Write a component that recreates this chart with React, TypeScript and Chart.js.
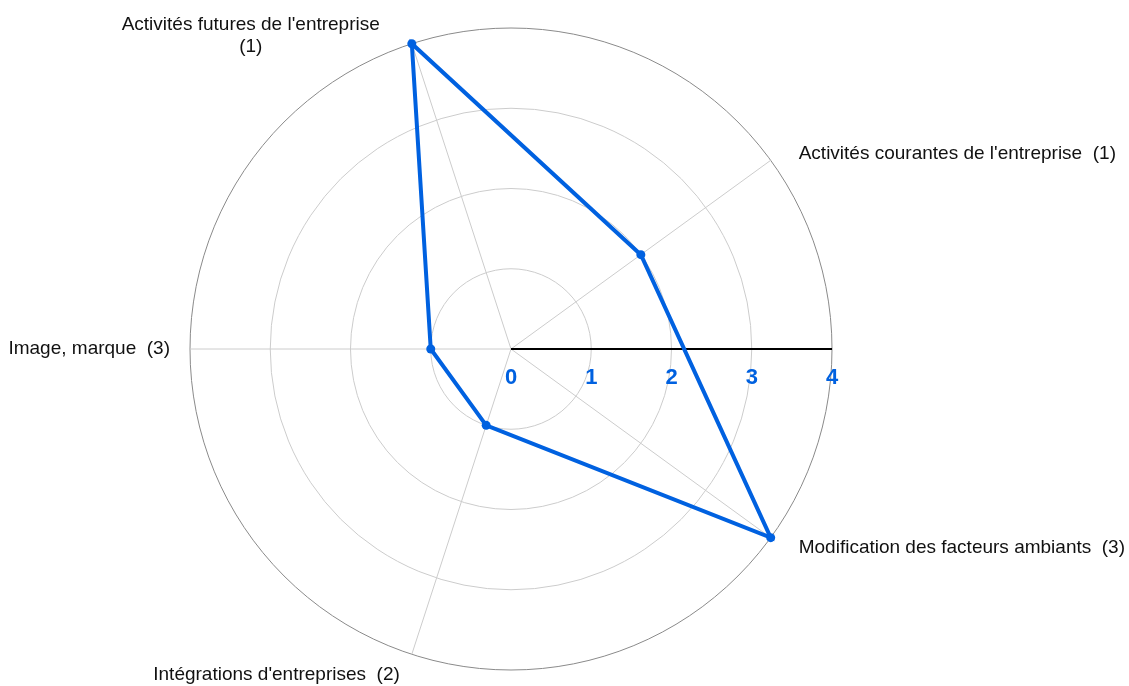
import React, { useEffect, useRef } from 'react';
import { Chart, registerables } from 'chart.js';

Chart.register(...registerables);

const categories: (string | string[])[] = [
  "Activités courantes de l'entreprise  (1)",
  'Modification des facteurs ambiants  (3)',
  "Intégrations d'entreprises  (2)",
  'Image, marque  (3)',
  ["Activités futures de l'entreprise", '(1)'],
];
const values = [2, 4, 1, 1, 4];
const tickValues = [0, 1, 2, 3, 4];
const tickLabels = ['0', '1', '2', '3', '4'];

const BLUE = '#0061e0';
const LABEL_FONT = '19px "Liberation Sans", Arial, sans-serif';
const TICK_FONT = 'bold 22px "Liberation Sans", Arial, sans-serif';
// [dx, dy, side] relative to the outer-circle point of each axis
const labelPlacement: [number, number, 'left' | 'right'][] = [
  [28, -7, 'left'],
  [28, 10, 'left'],
  [-12, 20, 'right'],
  [-20, 0, 'right'],
  [-32, -8, 'right'],
];

const decorPlugin = {
  id: 'decor',
  beforeDatasetsDraw(chart: any) {
    const s = chart.scales.r;
    const ctx = chart.ctx;
    ctx.save();
    ctx.strokeStyle = '#000';
    ctx.lineWidth = 2;
    ctx.beginPath();
    ctx.moveTo(s.xCenter, s.yCenter);
    ctx.lineTo(s.xCenter + s.getDistanceFromCenterForValue(tickValues[tickValues.length - 1]), s.yCenter);
    ctx.stroke();
    ctx.restore();
  },
  afterDraw(chart: any) {
    const s = chart.scales.r;
    const ctx = chart.ctx;
    ctx.save();
    // tick labels along horizontal axis
    ctx.font = TICK_FONT;
    ctx.fillStyle = BLUE;
    ctx.textAlign = 'center';
    ctx.textBaseline = 'middle';
    tickValues.forEach((v, i) => {
      ctx.fillText(tickLabels[i], s.xCenter + s.getDistanceFromCenterForValue(v), s.yCenter + 29);
    });
    // point labels
    ctx.font = LABEL_FONT;
    ctx.fillStyle = '#111';
    categories.forEach((lab, i) => {
      const lines = Array.isArray(lab) ? lab : [lab];
      const p = s.getPointPosition(i, s.drawingArea);
      const [dx, dy, side] = labelPlacement[i];
      const w = Math.max(...lines.map((l) => ctx.measureText(l).width));
      const edge = p.x + dx;
      const cx = side === 'left' ? edge + w / 2 : edge - w / 2;
      const cy = p.y + dy;
      const lh = 22;
      lines.forEach((l, j) => {
        ctx.fillText(l, cx, cy + (j - (lines.length - 1) / 2) * lh);
      });
    });
    ctx.restore();
  },
};

export default function App() {
  const ref = useRef<HTMLCanvasElement>(null);
  useEffect(() => {
    if (!ref.current) return;
    const chart = new Chart(ref.current, {
      type: 'radar',
      data: {
        labels: categories,
        datasets: [
          {
            data: values,
            borderColor: BLUE,
            backgroundColor: BLUE,
            borderWidth: 4,
            pointRadius: 4.5,
            pointBackgroundColor: BLUE,
            pointBorderWidth: 0,
            fill: false,
            tension: 0,
          },
        ],
      },
      options: {
        animation: false,
        responsive: true,
        maintainAspectRatio: false,
        layout: { padding: { left: 190, top: 28, right: 297, bottom: 16 } },
        plugins: { legend: { display: false }, tooltip: { enabled: false } },
        scales: {
          r: {
            min: 0,
            max: 4,
            startAngle: 54,
            ticks: { display: false, stepSize: 1 },
            pointLabels: { display: false },
            grid: {
              circular: true,
              color: (c: any) => (c.tick && c.tick.value === 4 ? '#8a8a8a' : '#cccccc'),
              lineWidth: 1,
            },
            angleLines: { color: '#cccccc', lineWidth: 1 },
          },
        },
      },
      plugins: [decorPlugin],
    });
    return () => chart.destroy();
  }, []);
  return (
    <div style={{ position: 'absolute', left: 0, top: 0, width: 1129, height: 686, background: '#fff' }}>
      <canvas ref={ref} />
    </div>
  );
}
